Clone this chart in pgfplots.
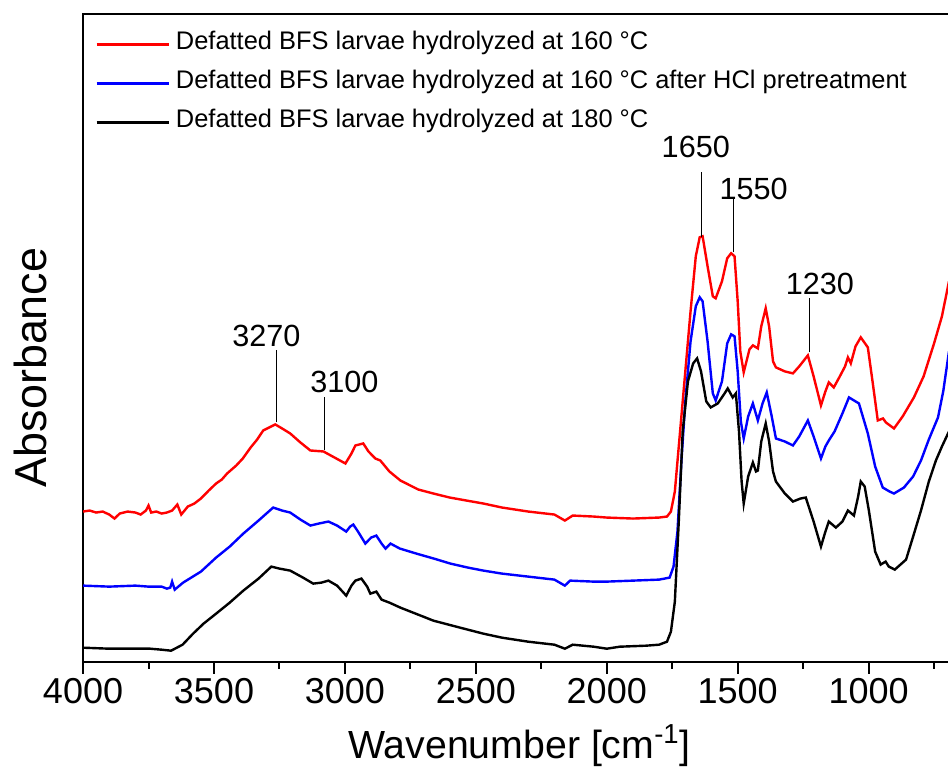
\documentclass[border=0pt]{standalone}
\usepackage{fontspec}
\setmainfont{Liberation Sans}
\usepackage{pgfplots}
\pgfplotsset{compat=1.18}
\newcommand{\annfont}{\fontsize{15.3}{17}\selectfont}
\begin{document}
\begin{tikzpicture}
\begin{axis}[
  scale only axis, width=432.5pt, height=323.5pt,
  x dir=reverse, xmin=693, xmax=4000, ymin=0, ymax=647,
  axis line style={line width=1pt},
  xtick={1000,1500,2000,2500,3000,3500,4000},
  minor xtick={750,1250,1750,2250,2750,3250,3750},
  ytick=\empty,
  xtick pos=lower, tick align=outside,
  major tick length=6pt, minor tick length=3.5pt,
  every tick/.style={black, line width=1pt},
  /pgf/number format/assume math mode=true,
  /pgf/number format/1000 sep={},
  xticklabel style={font=\fontsize{18}{20}\selectfont, inner sep=0pt, anchor=north, yshift=-2pt},
  xlabel={Wavenumber [cm\textsuperscript{-1}]},
  xlabel style={font=\fontsize{19.6}{22}\selectfont, at={(axis description cs:0.504,-0.13)}, anchor=center},
  ylabel={Absorbance},
  ylabel style={font=\fontsize{22.4}{25}\selectfont, at={(axis description cs:-0.0613,0.4544)}, anchor=center},
  legend style={at={(axis description cs:0,1)}, anchor=north west, xshift=6pt, yshift=-8.3pt,
    draw=none, fill=none, inner sep=0pt, font=\fontsize{12.7}{14}\selectfont, row sep=7.6pt,
    nodes={inner sep=0pt, text height=9.2pt, text depth=2.7pt}},
  legend cell align=left,
  legend image code/.code={\path (0pt,0pt); \draw[#1, line width=1.2pt] (0pt,-0.7pt) -- (36pt,-0.7pt);},
  /tikz/every odd column/.append style={column sep=3pt},
]
\addplot[red, line width=1.2pt] coordinates {
(4000,150) (3975,151) (3950,149) (3925,150) (3900,147) (3880,143) (3860,148) (3830,150) (3800,149) (3780,147) (3760,151) (3750,156) (3740,149) (3720,150) (3700,148)
(3680,149) (3660,151) (3640,157) (3625,147) (3600,155) (3575,158) (3550,163) (3520,171) (3492,178) (3470,182) (3450,188) (3415,196) (3390,203) (3360,214) (3335,222) (3312,231)
(3266,237) (3240,233) (3209,228) (3170,219) (3132,211) (3082,210) (3040,204) (2998,198) (2975,208) (2960,216)
(2930,218) (2910,210) (2884,203) (2865,201) (2830,190) (2788,181) (2720,172) (2662,168) (2600,164) (2536,161)
(2471,158) (2400,154) (2300,150) (2200,147) (2160,141) (2130,146) (2050,145) (2000,144) (1900,143) (1800,144)
(1770,145) (1755,150) (1740,170) (1720,230) (1700,290) (1680,350) (1660,405) (1645,424) (1634,425) (1615,395)
(1595,365) (1584,363) (1560,380) (1540,403) (1525,408) (1512,405) (1500,360) (1490,310) (1477,289) (1455,312)
(1442,316) (1423,313) (1410,335) (1393,353) (1380,335) (1365,300) (1354,294) (1320,290) (1289,288) (1265,295)
(1232,306) (1210,285) (1182,256) (1165,270) (1152,279) (1133,274) (1110,285) (1090,295) (1079,304) (1068,298)
(1050,315) (1030,324) (1003,314) (985,280) (965,241) (945,243) (934,239) (903,233) (870,245) (827,264)
(790,285) (750,318) (720,345) (693,380)
};
\addlegendentry{Defatted BFS larvae hydrolyzed at 160 °C}
\addplot[blue, line width=1.2pt] coordinates {
(4000,76) (3900,75) (3800,76) (3750,75) (3700,75) (3680,73) (3667,74) (3660,80) (3650,72) (3618,79)
(3550,90) (3492,104) (3440,115) (3388,128) (3330,141) (3274,154) (3240,151) (3209,149) (3170,142) (3132,136)
(3100,138) (3063,140) (3030,136) (2995,130) (2980,135) (2968,137) (2950,130) (2922,118) (2900,124) (2880,126)
(2860,118) (2845,113) (2826,118) (2790,113) (2727,108) (2660,103) (2597,98) (2530,94) (2471,91) (2400,88)
(2300,85) (2200,82) (2160,76) (2140,81) (2050,80) (2000,80) (1900,81) (1800,82) (1760,84) (1745,95)
(1730,130) (1715,200) (1700,260) (1680,320) (1660,355) (1645,364) (1634,360) (1615,320) (1595,268) (1584,261)
(1560,280) (1540,318) (1525,327) (1512,325) (1500,290) (1488,240) (1477,223) (1460,245) (1442,258) (1423,241)
(1405,258) (1389,269) (1370,245) (1354,223) (1320,220) (1289,216) (1265,225) (1232,241) (1210,225) (1182,203)
(1165,215) (1152,221) (1130,230) (1100,248) (1075,264) (1037,258) (1003,228) (975,195) (946,174) (920,170)
(903,168) (865,174) (830,185) (800,201) (770,222) (735,244) (715,270) (693,310)
};
\addlegendentry{Defatted BFS larvae hydrolyzed at 160 °C after HCl pretreatment}
\addplot[black, line width=1.2pt] coordinates {
(4000,14) (3900,13) (3800,13) (3744,13) (3700,12) (3664,11) (3620,17) (3580,28) (3540,38) (3492,48)
(3440,59) (3388,71) (3330,83) (3281,95) (3250,93) (3209,91) (3160,84) (3121,78) (3090,79) (3063,81)
(3030,76) (2995,66) (2975,76) (2960,81) (2937,83) (2915,75) (2903,68) (2880,70) (2860,62) (2830,59)
(2788,54) (2720,47) (2662,41) (2560,34) (2471,28) (2400,24) (2300,20) (2200,17) (2160,13) (2130,17)
(2050,15) (2000,13) (1950,15) (1850,16) (1800,17) (1770,20) (1755,30) (1740,60) (1725,140) (1710,230)
(1690,280) (1670,298) (1655,303) (1640,290) (1620,260) (1603,254) (1576,258) (1550,268) (1538,273) (1519,264)
(1507,268) (1495,230) (1485,180) (1477,158) (1460,185) (1442,199) (1430,190) (1423,191) (1410,220) (1393,238)
(1380,220) (1365,190) (1354,180) (1320,168) (1289,160) (1260,163) (1240,164) (1210,140) (1182,115) (1165,130)
(1152,140) (1125,134) (1100,140) (1079,151) (1056,146) (1040,165) (1030,180) (1015,175) (999,151) (975,110)
(954,97) (935,100) (923,95) (900,92) (857,102) (830,125) (800,151) (770,180) (743,201) (720,215) (693,230)
};
\addlegendentry{Defatted BFS larvae hydrolyzed at 180 °C}
\draw[line width=0.5pt] (axis cs:3262,239) -- (axis cs:3262,311);
\node[font=\annfont, inner sep=0pt] at (axis cs:3300,325) {3270};
\draw[line width=0.5pt] (axis cs:3079,211) -- (axis cs:3079,264);
\node[font=\annfont, inner sep=0pt] at (axis cs:3002,279) {3100};
\draw[line width=0.5pt] (axis cs:1637,424) -- (axis cs:1637,489);
\node[font=\annfont, inner sep=0pt] at (axis cs:1660,514) {1650};
\draw[line width=0.5pt] (axis cs:1515,409) -- (axis cs:1515,463);
\node[font=\annfont, inner sep=0pt] at (axis cs:1439,472) {1550};
\draw[line width=0.5pt] (axis cs:1225,309) -- (axis cs:1225,363);
\node[font=\annfont, inner sep=0pt] at (axis cs:1186,377) {1230};
\end{axis}
\pgfresetboundingbox
\useasboundingbox (-41.5pt,-53pt) rectangle (432pt,330.5pt);
\end{tikzpicture}
\end{document}
